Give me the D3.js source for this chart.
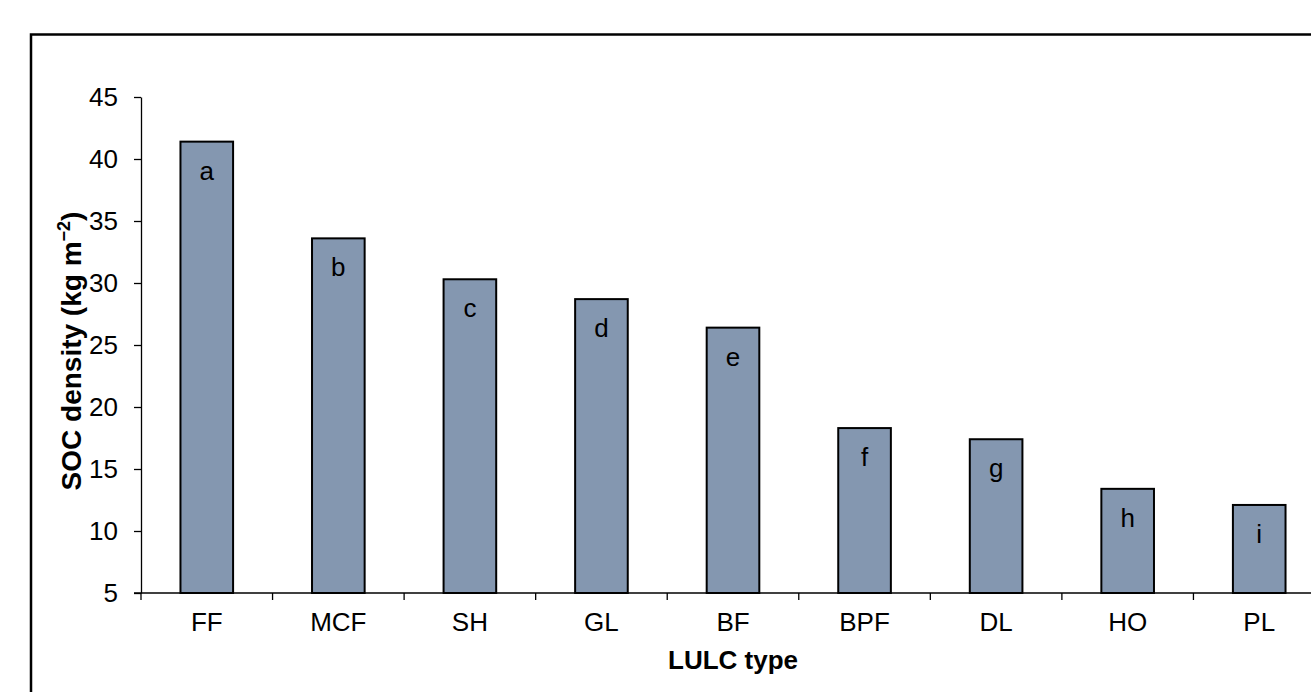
<!DOCTYPE html>
<html>
<head>
<meta charset="utf-8">
<script src="https://cdn.jsdelivr.net/npm/d3@7/dist/d3.min.js"></script>
<style>
  body { margin: 0; background: #fff; }
  svg { display: block; font-family: Arial, "Liberation Sans", sans-serif; }
</style>
</head>
<body>
<svg id="chart" width="1311" height="692"></svg>
<script>
const categories = ["FF", "MCF", "SH", "GL", "BF", "BPF", "DL", "HO", "PL"];
const socDensity = [41.4, 33.6, 30.3, 28.7, 26.4, 18.3, 17.4, 13.4, 12.1];
const letters = ["a", "b", "c", "d", "e", "f", "g", "h", "i"];
const yTicks = [5, 10, 15, 20, 25, 30, 35, 40, 45];

const fontSize = "26px";
const svg = d3.select("#chart");

// outer frame, runs off the right and bottom edge
svg.append("rect")
  .attr("x", 31)
  .attr("y", 34.5)
  .attr("width", 1400)
  .attr("height", 800)
  .attr("fill", "none")
  .attr("stroke", "#000")
  .attr("stroke-width", 2.5);

const margin = {top: 97, left: 141};
const plotWidth = 1184;
const plotHeight = 496;

const g = svg.append("g")
  .attr("transform", `translate(${margin.left}, ${margin.top})`);

const x = d3.scaleBand()
  .domain(categories)
  .range([0, plotWidth])
  .paddingInner(0.6)
  .paddingOuter(0.3);

const y = d3.scaleLinear()
  .domain([5, 45])
  .range([plotHeight, 0]);

const data = categories.map((c, i) => ({cat: c, val: socDensity[i], letter: letters[i]}));

// bars
g.selectAll(".bar")
  .data(data)
  .enter()
  .append("rect")
  .attr("class", "bar")
  .attr("x", d => x(d.cat))
  .attr("y", d => y(d.val))
  .attr("width", x.bandwidth())
  .attr("height", d => plotHeight - y(d.val))
  .attr("fill", "#8497b0")
  .attr("stroke", "#000")
  .attr("stroke-width", 2);

g.selectAll(".letter")
  .data(data)
  .enter()
  .append("text")
  .attr("class", "letter")
  .attr("x", d => x(d.cat) + x.bandwidth() / 2)
  .attr("y", d => y(d.val) + 38)
  .attr("text-anchor", "middle")
  .attr("font-size", fontSize)
  .text(d => d.letter);

// y axis
const yAxis = g.append("g")
  .call(d3.axisLeft(y).tickValues(yTicks).tickSize(7).tickPadding(16).tickSizeOuter(0));
yAxis.select(".domain").attr("stroke", "#000").attr("stroke-width", 1.3);
yAxis.selectAll(".tick line").attr("stroke", "#000").attr("stroke-width", 1.3);
yAxis.selectAll("text")
  .attr("font-size", fontSize)
  .attr("font-family", "Arial, 'Liberation Sans', sans-serif")
  .attr("fill", "#000");

// x axis: ticks at category boundaries
const xAxisG = g.append("g").attr("transform", `translate(0, ${plotHeight})`);
xAxisG.append("line")
  .attr("x1", -7)
  .attr("x2", 1311 - margin.left)
  .attr("stroke", "#000")
  .attr("stroke-width", 1.3);

const step = x.step();
xAxisG.selectAll(".xtick")
  .data(categories)
  .enter()
  .append("line")
  .attr("class", "xtick")
  .attr("x1", d => x(d) - x.paddingOuter() * step)
  .attr("x2", d => x(d) - x.paddingOuter() * step)
  .attr("y1", 0)
  .attr("y2", 7)
  .attr("stroke", "#000")
  .attr("stroke-width", 1.3);

xAxisG.selectAll(".xlabel")
  .data(categories)
  .enter()
  .append("text")
  .attr("class", "xlabel")
  .attr("x", d => x(d) + x.bandwidth() / 2)
  .attr("y", 38)
  .attr("text-anchor", "middle")
  .attr("font-size", fontSize)
  .text(d => d);

// axis titles
g.append("text")
  .attr("x", plotWidth / 2)
  .attr("y", plotHeight + 76)
  .attr("text-anchor", "middle")
  .attr("font-size", fontSize)
  .attr("font-weight", "bold")
  .text("LULC type");

const yTitle = g.append("text")
  .attr("transform", `translate(${81 - margin.left}, ${351 - margin.top}) rotate(-90)`)
  .attr("text-anchor", "middle")
  .attr("font-size", "28px")
  .attr("font-weight", "bold");
yTitle.append("tspan").text("SOC density (kg m");
yTitle.append("tspan").attr("font-size", "18px").attr("dy", -11).text("−2");
yTitle.append("tspan").attr("dy", 11).text(")");
</script>
</body>
</html>
